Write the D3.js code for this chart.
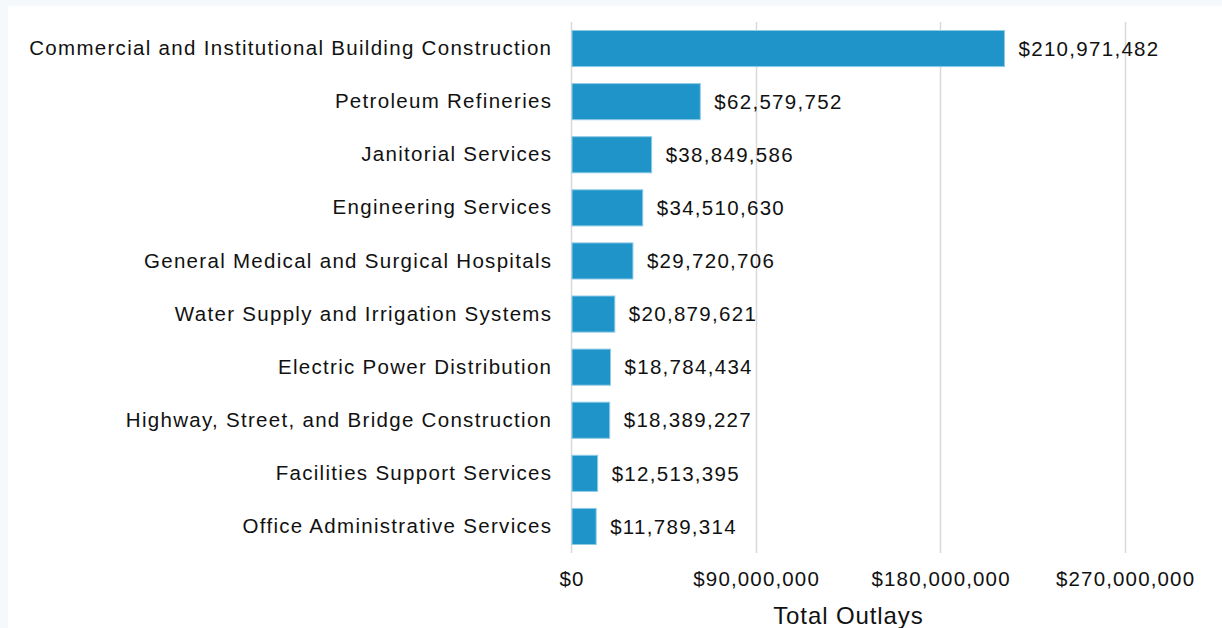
<!DOCTYPE html>
<html>
<head>
<meta charset="utf-8">
<script src="https://cdn.jsdelivr.net/npm/d3@7"></script>
<style>
  html, body { margin: 0; padding: 0; background: #f6f9fb; }
  #chart { position: absolute; left: 8px; top: 6px; width: 1214px; height: 622px; background: #fff; }
  svg { display: block; }
  text { font-family: "Liberation Sans", Arial, sans-serif; fill: #111; }
</style>
</head>
<body>
<div id="chart"></div>
<script>
// categories and values (top to bottom)
var categories = [
    "Commercial and Institutional Building Construction",
    "Petroleum Refineries",
    "Janitorial Services",
    "Engineering Services",
    "General Medical and Surgical Hospitals",
    "Water Supply and Irrigation Systems",
    "Electric Power Distribution",
    "Highway, Street, and Bridge Construction",
    "Facilities Support Services",
    "Office Administrative Services"
];
var outlays = [210971482, 62579752, 38849586, 34510630, 29720706,
    20879621, 18784434, 18389227, 12513395, 11789314];
var tickValues = [0, 90000000, 180000000, 270000000];
var axisTitle = "Total Outlays";

var width = 1214, height = 622;
// offsets relative to the white panel
var ox = 8, oy = 6;
var labelFont = "20.5px";
var spacing = 1.3;

var plot = d3.select("#chart")
    .append("svg")
    .attr("width", width)
    .attr("height", height);

//scales
var xScale = d3.scaleLinear()
    .domain([0, 270000000])
    .range([571 - ox, 1124.5 - ox]);
var yScale = d3.scaleBand()
    .domain(categories)
    .range([22 - oy, 553 - oy])
    .paddingInner(0.32)
    .paddingOuter(0.16);

var money = d3.format("$,");

//grid lines
plot.append("g")
    .selectAll("line")
    .data(tickValues)
    .enter().append("line")
    .attr("x1", function (d) { return Math.round(xScale(d)) + 0.5; })
    .attr("x2", function (d) { return Math.round(xScale(d)) + 0.5; })
    .attr("y1", 22 - oy)
    .attr("y2", 553 - oy)
    .attr("stroke", "#d9d9d9")
    .attr("stroke-width", 1.5);

//x axis labels
var xAxis = d3.axisBottom(xScale)
    .tickValues(tickValues)
    .tickFormat(money)
    .tickSize(0)
    .tickPadding(0);

var gx = plot.append("g")
    .attr("transform", "translate(0," + (571 - oy) + ")")
    .call(xAxis);
gx.select(".domain").remove();
gx.selectAll("text")
    .attr("dy", "0.71em")
    .attr("dx", 0.6)
    .style("font-size", labelFont)
    .style("letter-spacing", "1.15px")
    .style("font-family", "'Liberation Sans', Arial, sans-serif")
    .attr("fill", "#111");

//y axis labels
var yAxis = d3.axisLeft(yScale).tickSize(0).tickPadding(0);
var gy = plot.append("g")
    .attr("transform", "translate(" + (551 - ox + spacing) + ",0)")
    .call(yAxis);
gy.select(".domain").remove();
gy.selectAll("text")
    .style("font-size", labelFont)
    .style("letter-spacing", spacing + "px")
    .style("font-family", "'Liberation Sans', Arial, sans-serif")
    .attr("fill", "#111");

//bars
plot.append("g")
    .selectAll("rect")
    .data(outlays)
    .enter().append("rect")
    .attr("x", xScale(0) + 1)
    .attr("y", function (d, i) { return yScale(categories[i]); })
    .attr("width", function (d) { return xScale(d) - xScale(0); })
    .attr("height", yScale.bandwidth())
    .attr("fill", "#1f94c9")
    .attr("stroke", "#8fcbe6")
    .attr("stroke-width", 1);

//value labels
plot.append("g")
    .selectAll("text")
    .data(outlays)
    .enter().append("text")
    .attr("x", function (d) { return xScale(d) + 15; })
    .attr("y", function (d, i) { return yScale(categories[i]) + yScale.bandwidth() / 2; })
    .attr("dy", "0.35em")
    .style("font-size", labelFont)
    .style("letter-spacing", spacing + "px")
    .text(function (d) { return money(d); });

//axis title
plot.append("text")
    .attr("x", 848 - ox + 0.4)
    .attr("y", 624 - oy)
    .attr("text-anchor", "middle")
    .style("font-size", "24px")
    .style("letter-spacing", "0.9px")
    .text(axisTitle);
</script>
</body>
</html>
